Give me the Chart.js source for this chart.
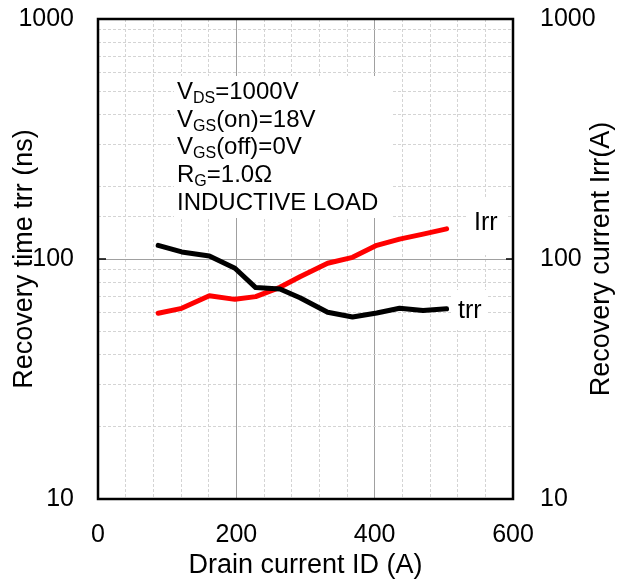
<!DOCTYPE html>
<html>
<head>
<meta charset="utf-8">
<script src="https://cdn.jsdelivr.net/npm/chart.js@4"></script>
<style>
  html, body { margin: 0; padding: 0; background: #fff; }
</style>
</head>
<body>
<canvas id="chart" width="629" height="582"></canvas>
<script>
// drain current ID (A)
const drainCurrent = [87, 121, 161, 198, 228, 263, 292, 332, 368, 403, 436, 470, 504];
// recovery time trr (ns)
const trrValues = [114, 107, 103, 91.5, 76, 75, 69, 60, 57.3, 59.6, 62.3, 61, 62];
// recovery current Irr (A)
const irrValues = [59.4, 62.3, 70.3, 67.9, 69.7, 76.2, 84.4, 96, 101.6, 114, 121, 127, 133.5];

const xTickLabels = [0, 200, 400, 600];
const yTickLabels = [10, 100, 1000];

const FONT = "'Liberation Sans', Arial, sans-serif";

function isPow10(v) {
  const l = Math.log10(v);
  return Math.abs(l - Math.round(l)) < 1e-9;
}
function gridColor(major) { return major ? '#a0a0a0' : '#d4d4d4'; }

// white boxes behind the text boxes
const boxPlugin = {
  id: 'boxes',
  beforeDatasetsDraw(chart) {
    const ctx = chart.ctx;
    ctx.save();
    ctx.fillStyle = '#fff';
    ctx.fillRect(174, 76, 218, 142);
    ctx.fillRect(466, 197, 40, 58);
    ctx.fillRect(452, 290, 35, 40);
    ctx.restore();
  }
};

function drawParts(ctx, parts, x, y) {
  parts.forEach(p => {
    if (p[1]) {
      ctx.font = '16px ' + FONT;
      ctx.fillText(p[0], x, y + 4);
    } else {
      ctx.font = '24px ' + FONT;
      ctx.fillText(p[0], x, y);
    }
    x += ctx.measureText(p[0]).width;
  });
}

const framePlugin = {
  id: 'frame',
  afterDraw(chart) {
    const ctx = chart.ctx;
    const a = chart.chartArea;
    const yS = chart.scales.y;
    ctx.save();
    ctx.strokeStyle = '#000';
    ctx.lineWidth = 2.5;
    ctx.strokeRect(a.left, a.top, a.right - a.left, a.bottom - a.top);
    // inward major ticks at 100
    const p = yS.getPixelForValue(100);
    ctx.lineWidth = 1.5;
    ctx.beginPath();
    ctx.moveTo(a.left, p); ctx.lineTo(a.left + 8, p);
    ctx.moveTo(a.right, p); ctx.lineTo(a.right - 7, p);
    ctx.stroke();

    // right axis title
    ctx.fillStyle = '#000';
    ctx.font = '27px ' + FONT;
    ctx.textAlign = 'center';
    ctx.textBaseline = 'middle';
    ctx.translate(602, (a.top + a.bottom) / 2);
    ctx.rotate(-Math.PI / 2);
    ctx.fillText('Recovery current Irr(A)', 0, 0);
    ctx.restore();

    // condition text
    ctx.save();
    ctx.fillStyle = '#000';
    ctx.textAlign = 'left';
    ctx.textBaseline = 'alphabetic';
    drawParts(ctx, [['V', 0], ['DS', 1], ['=1000V', 0]], 177, 99);
    drawParts(ctx, [['V', 0], ['GS', 1], ['(on)=18V', 0]], 177, 127);
    drawParts(ctx, [['V', 0], ['GS', 1], ['(off)=0V', 0]], 177, 154);
    drawParts(ctx, [['R', 0], ['G', 1], ['=1.0\u03A9', 0]], 177, 182);
    drawParts(ctx, [['INDUCTIVE LOAD', 0]], 177, 210);

    ctx.font = "25px 'Liberation Sans Narrow', 'Liberation Sans', sans-serif";
    ctx.fillText('Irr', 474, 230);
    ctx.fillText('trr', 458, 318);
    ctx.restore();
  }
};

// keep the vertical axes from pushing the plot area down
function fitVertical(width) {
  return function (s) {
    s.width = width;
    s.paddingTop = 15;
    s.paddingBottom = 15;
  };
}

const config = {
  type: 'line',
  data: {
    labels: drainCurrent,
    datasets: [
      {
        label: 'trr',
        data: drainCurrent.map((x, i) => ({ x: x, y: trrValues[i] })),
        borderColor: '#000',
        borderWidth: 5,
        borderCapStyle: 'round',
        borderJoinStyle: 'round',
        pointRadius: 0,
        tension: 0,
        yAxisID: 'y'
      },
      {
        label: 'Irr',
        data: drainCurrent.map((x, i) => ({ x: x, y: irrValues[i] })),
        borderColor: '#ff0000',
        borderWidth: 5,
        borderCapStyle: 'round',
        borderJoinStyle: 'round',
        pointRadius: 0,
        tension: 0,
        yAxisID: 'y2'
      }
    ]
  },
  options: {
    responsive: false,
    animation: false,
    layout: { padding: { top: 19, left: 0, right: 0, bottom: 0 } },
    plugins: {
      legend: { display: false },
      tooltip: { enabled: false }
    },
    scales: {
      x: {
        type: 'linear',
        min: 0,
        max: 600,
        afterFit(s) { s.height = 83; },
        ticks: {
          stepSize: 40,
          autoSkip: false,
          maxRotation: 0,
          padding: 21,
          color: '#000',
          font: { family: FONT, size: 25 },
          callback(v) { return xTickLabels.includes(v) ? String(v) : ''; }
        },
        grid: {
          drawTicks: false,
          lineWidth: 1,
          color(ctx) {
            const v = ctx.tick ? ctx.tick.value : 0;
            return gridColor(v === 200 || v === 400);
          }
        },
        border: {
          display: false,
          dash(ctx) {
            if (!ctx.tick) return [];
            const v = ctx.tick.value;
            return (v === 200 || v === 400) ? [] : [3, 2];
          }
        },
        title: {
          display: true,
          text: 'Drain current ID (A)',
          color: '#000',
          font: { family: FONT, size: 27 },
          padding: { top: -1, bottom: 0 }
        }
      },
      y: {
        type: 'logarithmic',
        position: 'left',
        min: 10,
        max: 1000,
        afterFit: fitVertical(98),
        ticks: {
          autoSkip: false,
          padding: 24,
          color: '#000',
          font: { family: FONT, size: 25 },
          callback(v) { return isPow10(v) ? String(Math.round(v)) : ''; }
        },
        grid: {
          drawTicks: false,
          lineWidth: 1,
          color(ctx) {
            const v = ctx.tick ? ctx.tick.value : 10;
            return gridColor(isPow10(v));
          }
        },
        border: {
          display: false,
          dash(ctx) {
            if (!ctx.tick) return [];
            return isPow10(ctx.tick.value) ? [] : [3, 2];
          }
        },
        title: {
          display: true,
          text: 'Recovery time trr (ns)',
          color: '#000',
          font: { family: FONT, size: 27 },
          padding: { top: 8, bottom: 0 }
        }
      },
      y2: {
        type: 'logarithmic',
        position: 'right',
        min: 10,
        max: 1000,
        afterFit: fitVertical(116),
        ticks: {
          autoSkip: false,
          padding: 27,
          color: '#000',
          font: { family: FONT, size: 25 },
          callback(v) { return isPow10(v) ? String(Math.round(v)) : ''; }
        },
        grid: { display: false, drawTicks: false },
        border: { display: false }
      }
    }
  },
  plugins: [boxPlugin, framePlugin]
};

const myChart = new Chart(document.getElementById('chart'), config);
</script>
</body>
</html>
